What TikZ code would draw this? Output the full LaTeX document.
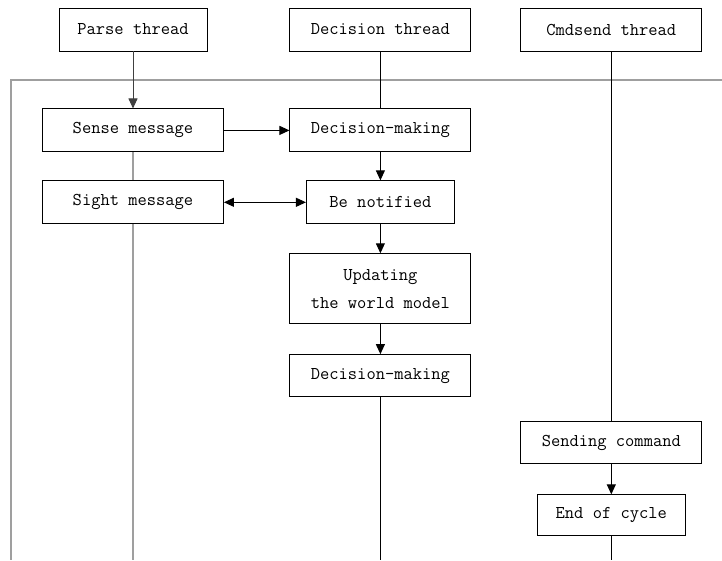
\documentclass[tikz,border=0pt]{standalone}
\usepackage{fontspec}
\usetikzlibrary{arrows.meta, positioning}

\begin{document}
\begin{tikzpicture}[
    x=1pt, y=1pt,
    >={Triangle[length=10pt, width=9pt]},
    node distance=57pt and 82pt,
    box/.style={
      draw, rectangle, line width=0.9pt, inner sep=0pt,
      minimum width=181pt, minimum height=43pt, align=center,
      font=\fontsize{18}{28}\selectfont\ttfamily},
    narrow/.style={box, minimum width=148pt},
    life/.style={line width=1pt, black},
    frame/.style={line width=1.6pt, gray!75},
    arr/.style={->, line width=1pt},
  ]
  \useasboundingbox (0,0) rectangle (722,-560);

  % ── Thread headers ──
  \node[narrow] (parse) at (133,-29.5) {Parse thread};
  \node[box, right=82pt of parse] (decthr) {Decision thread};
  \node[box, right=49pt of decthr] (cmdthr) {Cmdsend thread};

  % ── Cycle frame ──
  \coordinate (fl) at (11,-80);
  \coordinate (fr) at (722,-80);
  \coordinate (fb) at (11,-560);
  \draw[frame] (fr) -- (fl) -- (fb);

  % ── Parse thread ──
  \node[box, below=57pt of parse] (sense) {Sense message};
  \node[box, below=28pt of sense] (sight) {Sight message};

  % ── Decision thread ──
  \node[box, below=57pt of decthr] (dm1) {Decision-making};
  \node[narrow, below=28pt of dm1] (notify) {Be notified};
  \node[box, below=29pt of notify, minimum height=70pt]
    (update) {Updating\\the world model};
  \node[box, below=30pt of update, minimum height=42pt]
    (dm2) {Decision-making};

  % ── Cmdsend thread ──
  \node[box, below=370pt of cmdthr, minimum height=42pt]
    (send) {Sending command};
  \node[narrow, below=30pt of send, minimum height=41pt]
    (eoc) {End of cycle};

  \coordinate (b1) at (sight.south |- fb);
  \coordinate (b2) at (dm2.south |- fb);
  \coordinate (b3) at (eoc.south |- fb);

  % ── Connectors ──
  \draw[arr, black!75] (parse) -- (sense);
  \draw[frame] (sense) -- (sight);
  \draw[frame] (sight) -- (b1);
  \draw[arr] (sense) -- (dm1);
  \draw[arr, <->] (sight) -- (notify);

  \draw[life] (decthr) -- (dm1);
  \draw[arr] (dm1) -- (notify);
  \draw[arr] (notify) -- (update);
  \draw[arr] (update) -- (dm2);
  \draw[life] (dm2) -- (b2);

  \draw[life] (cmdthr) -- (send);
  \draw[arr] (send) -- (eoc);
  \draw[life] (eoc) -- (b3);

\end{tikzpicture}
\end{document}
